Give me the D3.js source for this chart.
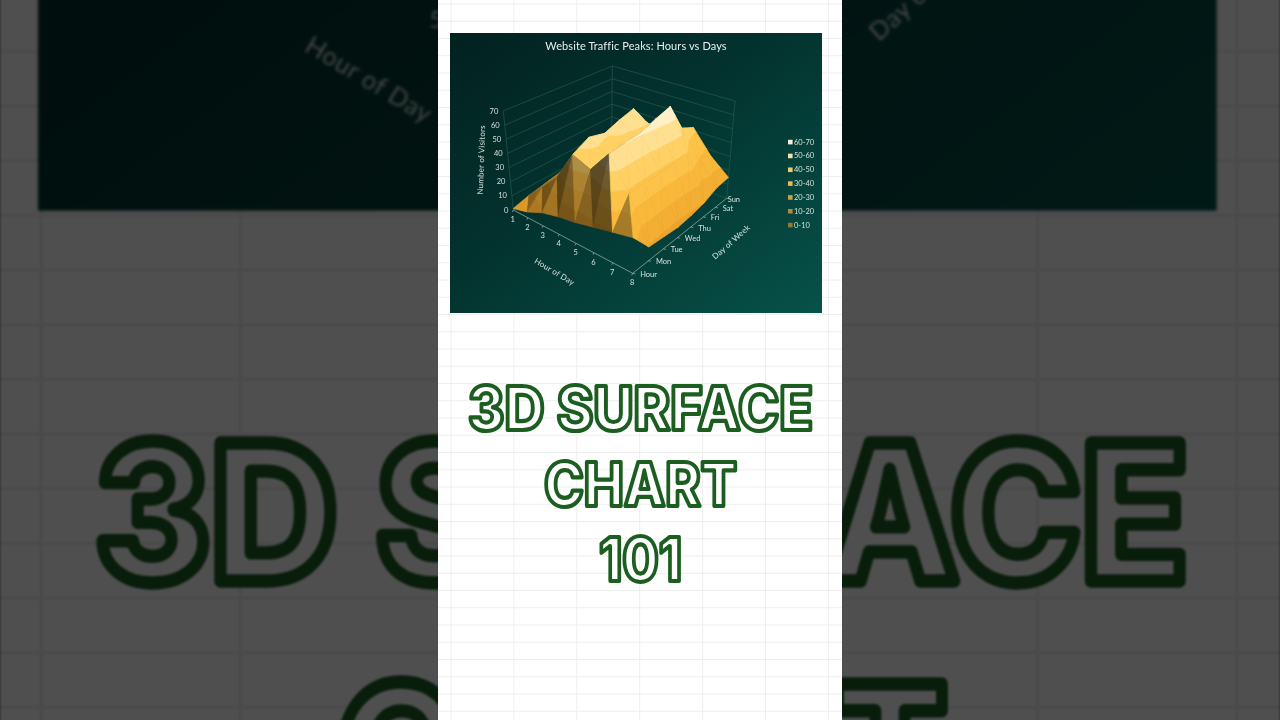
<!DOCTYPE html>
<html><head><meta charset="utf-8">
<script src="https://cdn.jsdelivr.net/npm/d3@7/dist/d3.min.js"></script>
<style>html,body{margin:0;padding:0;background:#505050;overflow:hidden}svg{display:block}text{font-family:Lato,"Open Sans",sans-serif}</style>
</head><body><div id="chart"></div>
<script>
const title = "Website Traffic Peaks: Hours vs Days";
const hours = [1,2,3,4,5,6,7,8];
const days = ["Hour","Mon","Tue","Wed","Thu","Fri","Sat","Sun"];
const zTicks = [0,10,20,30,40,50,60,70];
const bandLabels = ["0-10","10-20","20-30","30-40","40-50","50-60","60-70"];
const bandColors = ["#eba42d","#f4ae33","#fab83b","#fdc348","#ffd164","#ffe090","#fff0c8"];
const legendColors = ["#8f7a32","#ac8c3a","#c9a23f","#e3c04f","#e9cd6a","#f3e3a8","#f5efdc"];
const rowHour = [1,4,9,12,14,17,20,23];
const rowMon = [4,15,27,48,43,59,38,9];
const rowTue = [6,18,30,54,46,60,38,8];
const rowWed = [8,20,32,51,46,61,38,7];
const rowThu = [10,22,34,55,47,65,39,8];
const rowFri = [11,24,36,58,48,68,40,10];
const rowSat = [11,22,30,43,38,47,30,14];
const rowSun = [10,18,24,32,35,42,26,15];
const grid = [rowHour,rowMon,rowTue,rowWed,rowThu,rowFri,rowSat,rowSun];

const svg = d3.select("#chart").append("svg").attr("width",1280).attr("height",720);
const defs = svg.append("defs");
const lg = defs.append("linearGradient").attr("id","bg").attr("x1",0).attr("y1",0).attr("x2",1).attr("y2",1);
lg.append("stop").attr("offset","0%").attr("stop-color","#02211f");
lg.append("stop").attr("offset","45%").attr("stop-color","#03332f");
lg.append("stop").attr("offset","100%").attr("stop-color","#065249");
defs.append("filter").attr("id","soft").attr("color-interpolation-filters","sRGB").append("feGaussianBlur").attr("stdDeviation",0.4);
defs.append("filter").attr("id","ghostBlur").attr("color-interpolation-filters","sRGB").append("feGaussianBlur").attr("stdDeviation",0.8);

// page backdrop: the same panel enlarged and dimmed
const SCALE = 1280/404;
svg.append("g").attr("filter","url(#ghostBlur)").append("use").attr("href","#panel")
  .attr("transform",`translate(${-438*SCALE},-781) scale(${SCALE})`);
svg.append("rect").attr("width",1280).attr("height",720).attr("fill","#000").attr("opacity",0.69);

const panel = svg.append("g").attr("id","panel");
panel.append("rect").attr("x",438).attr("y",0).attr("width",404).attr("height",720).attr("fill","#fff");
const gv = d3.range(451,842,62.9), gh = d3.range(4,720,17.25);
panel.append("g").selectAll("line").data(gv).join("line").attr("x1",d=>d).attr("x2",d=>d).attr("y1",0).attr("y2",720).attr("stroke","#eeeeee");
panel.append("g").selectAll("line").data(gh).join("line").attr("x1",438).attr("x2",842).attr("y1",d=>d).attr("y2",d=>d).attr("stroke","#eeeeee");

const chart = panel.append("g").attr("filter","url(#soft)");
chart.append("rect").attr("x",450).attr("y",33).attr("width",372).attr("height",280).attr("fill","url(#bg)");
chart.append("text").attr("x",636).attr("y",50).attr("text-anchor","middle").attr("font-size",11).attr("fill","#e8efec").attr("letter-spacing",0.1).text(title);

// scales: data -> unit cube
const uS = d3.scaleLinear().domain([1,8]).range([0,1]);
const vS = d3.scalePoint().domain(days).range([0,1]);
const zS = d3.scaleLinear().domain([0,70]).range([0,1]);

// unit square -> quadrilateral
function quad(p){
  const [[x0,y0],[x1,y1],[x2,y2],[x3,y3]] = p;
  const dx1=x1-x2,dx2=x3-x2,sx=x0-x1+x2-x3,dy1=y1-y2,dy2=y3-y2,sy=y0-y1+y2-y3;
  const det=dx1*dy2-dx2*dy1;
  const g=(sx*dy2-dx2*sy)/det,h=(dx1*sy-sx*dy1)/det;
  const a=x1-x0+g*x1,b=x3-x0+h*x3,c=x0,d=y1-y0+g*y1,e=y3-y0+h*y3,f=y0;
  return (u,v)=>{const w=g*u+h*v+1;return [(a*u+b*v+c)/w,(d*u+e*v+f)/w];};
}
const floorQ = quad([[513.3,210],[632.7,273.3],[726.7,198.3],[611.5,155]]);
const topQ = quad([[503.3,111],[634,165],[735,101],[612.3,66]]);
function proj(u,v,z){const a=floorQ(u,v),b=topQ(u,v);return [a[0]+(b[0]-a[0])*z,a[1]+(b[1]-a[1])*z];}
const line = d3.line();

// walls
const wall = chart.append("g").attr("stroke","#1f5a52").attr("stroke-width",0.7).attr("fill","none");
zTicks.forEach(t=>{
  wall.append("path").attr("d",line([proj(0,0,zS(t)),proj(0,1,zS(t)),proj(1,1,zS(t))]));
});
[[0,0],[0,1],[1,1]].forEach(([u,v])=>wall.append("path").attr("d",line([proj(u,v,0),proj(u,v,1)])));

// floor axes
const ax = chart.append("g").attr("stroke","#9db9b1").attr("stroke-width",0.7).attr("fill","none");
ax.append("path").attr("d",line([proj(0,0,0),proj(1,0,0),proj(1,1,0)]));
hours.forEach(h=>{const p=proj(uS(h),0,0);ax.append("path").attr("d",line([p,[p[0]-1,p[1]+2]]));});
days.forEach(d=>{const p=proj(1,vS(d),0);ax.append("path").attr("d",line([p,[p[0]+2.5,p[1]+0.5]]));});

const lbl = "#d3e0db";
chart.append("g").selectAll("text").data(zTicks).join("text").attr("text-anchor","end").attr("font-size",7.5).attr("fill",lbl)
  .attr("x",d=>proj(0,0,zS(d))[0]-5).attr("y",d=>proj(0,0,zS(d))[1]+2.5).text(d=>d);
chart.append("g").selectAll("text").data(hours).join("text").attr("text-anchor","middle").attr("font-size",7.5).attr("fill",lbl)
  .attr("x",d=>proj(uS(d),0,0)[0]-0.5).attr("y",d=>proj(uS(d),0,0)[1]+12).text(d=>d);
chart.append("g").selectAll("text").data(days).join("text").attr("font-size",7.5).attr("fill",lbl)
  .attr("x",d=>proj(1,vS(d),0)[0]+(d==="Sun"?1:7.5)).attr("y",d=>proj(1,vS(d),0)[1]+3.5).text(d=>d);

function axisTitle(t,x,y,r){chart.append("text").attr("transform",`translate(${x},${y}) rotate(${r})`).attr("text-anchor","middle").attr("font-size",8).attr("fill",lbl).attr("letter-spacing",0.2).text(t);}
axisTitle("Number of Visitors",484,160,-88);
axisTitle("Hour of Day",553,274,31);
axisTitle("Day of Week",733,244,-42);

// triangles
const cells=[];
for(let j=0;j<days.length-1;j++)for(let i=0;i<hours.length-1;i++)cells.push({i,j});
cells.sort((a,b)=>(a.i-a.j)-(b.i-b.j));
const vert=(i,j)=>({u:uS(hours[i]),v:vS(days[j]),z:grid[j][i]});
function clip(poly,lo,hi){
  const cut=(pts,inside,lim)=>{const o=[];pts.forEach((p,k)=>{const q=pts[(k+1)%pts.length],a=inside(p),b=inside(q);
    if(a)o.push(p);
    if(a!==b){const t=(lim-p.z)/(q.z-p.z);o.push({u:p.u+(q.u-p.u)*t,v:p.v+(q.v-p.v)*t,z:lim});}});return o;};
  let r=cut(poly,p=>p.z>=lo,lo);
  if(r.length)r=cut(r,p=>p.z<=hi,hi);
  return r;
}
function shade(t){
  const [a,b,c]=t;const k=0.04;
  const e1=[(b.u-a.u)*7,(b.v-a.v)*7,(b.z-a.z)*k],e2=[(c.u-a.u)*7,(c.v-a.v)*7,(c.z-a.z)*k];
  let n=[e1[1]*e2[2]-e1[2]*e2[1],e1[2]*e2[0]-e1[0]*e2[2],e1[0]*e2[1]-e1[1]*e2[0]];
  if(n[2]<0)n=n.map(x=>-x);
  const l=Math.hypot(...n);n=n.map(x=>x/l);
  const dot=n[0]*0.75+n[1]*0.45+n[2]*0.5;
  return Math.max(0.36,Math.min(1,0.6+0.95*dot));
}
const faces=[];
cells.forEach(({i,j})=>{
  [[vert(i,j),vert(i+1,j),vert(i,j+1)],[vert(i+1,j),vert(i+1,j+1),vert(i,j+1)]].forEach(tri=>{
    const f=shade(tri);
    bandColors.forEach((col,b)=>{
      const poly=clip(tri,b*10,(b+1)*10);
      if(poly.length>2){
        const c=d3.rgb(col);
        const s=`rgb(${c.r*f},${c.g*f},${c.b*f})`;
        faces.push({pts:poly.map(p=>proj(p.u,p.v,zS(p.z))),col:s});
      }
    });
  });
});
chart.append("g").selectAll("path").data(faces).join("path")
  .attr("d",d=>line(d.pts)+"Z").attr("fill",d=>d.col).attr("stroke",d=>d.col).attr("stroke-width",0.75).attr("stroke-linejoin","round");

// legend
const lY = d3.scalePoint().domain([...bandLabels].reverse()).range([142,225]);
const leg = chart.append("g").selectAll("g").data(bandLabels).join("g").attr("transform",d=>`translate(788,${lY(d)})`);
leg.append("rect").attr("x",0).attr("y",-2.2).attr("width",4.6).attr("height",4.6).attr("fill",(d,i)=>legendColors[i]);
leg.append("text").attr("x",6).attr("y",2.6).attr("font-size",7.5).attr("fill",lbl).text(d=>d);

// headline
const head = panel.append("g").attr("text-anchor","middle").attr("font-weight",800).attr("font-size",60)
  .attr("fill","#fff").attr("stroke","#1b5e20").attr("stroke-width",4.2).attr("stroke-linejoin","round");
[["3D SURFACE",430,345],["CHART",506,193],["101",581,83]].forEach(([t,y,w])=>{
  head.append("text").attr("x",640.5).attr("y",y).attr("textLength",w).attr("lengthAdjust","spacingAndGlyphs").style("font-family","Inter").text(t);
});
</script></body></html>
